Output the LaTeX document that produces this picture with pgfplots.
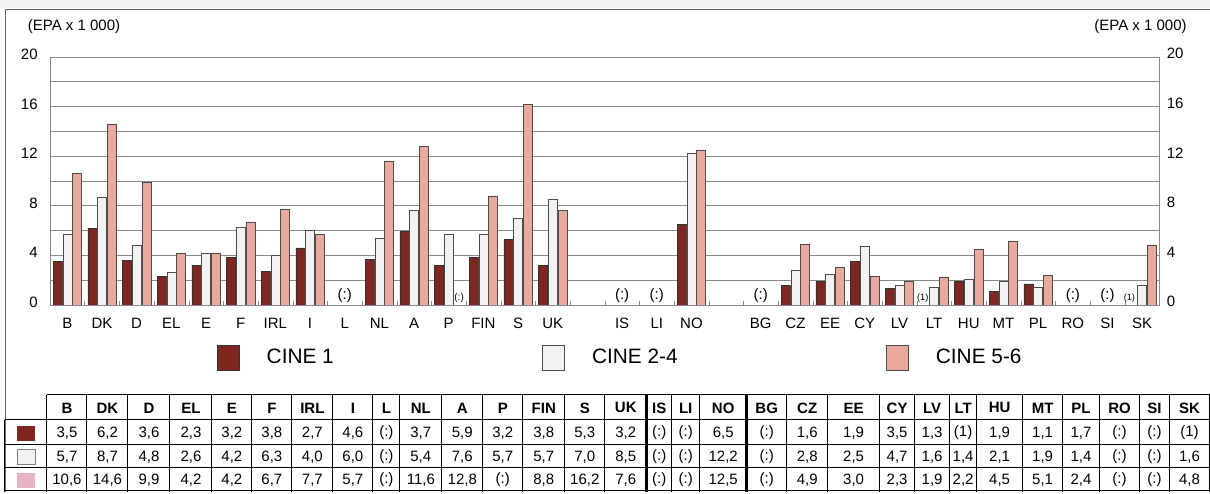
\documentclass[border=0pt]{standalone}
\usepackage{pgfplots}
\pgfplotsset{compat=1.18}
\usepackage{fontspec}
\setmainfont{Liberation Sans}
\pgfplotsset{/pgf/number format/assume math mode=true}

\definecolor{cineA}{HTML}{7E2620}
\definecolor{cineB}{HTML}{F2F2F2}
\definecolor{cineC}{HTML}{E8AA9C}
\definecolor{cinePink}{HTML}{E8B2C6}
\definecolor{gridc}{HTML}{8A8A8A}

% category positions: B..UK = 0..14, IS LI NO = 16..18, BG..SK = 20..31
\begin{document}
\begin{tikzpicture}
% 1 px of the reference = 0.6pt
\begin{scope}[x=0.6pt,y=-0.6pt]
  \useasboundingbox (0,0) rectangle (1210,492);
  \fill[black!5] (0,0) rectangle (1210,8);
  \draw[black!60, line width=0.6pt] (6,492) -- (6,9) -- (1210,9);
  \node[anchor=west, font=\fontsize{9}{11}\selectfont] at (22,27) {(EPA x 1 000)};
  \node[anchor=east, font=\fontsize{9}{11}\selectfont] at (1193,27) {(EPA x 1 000)};
\end{scope}

\begin{axis}[
  at={(30pt,-183pt)}, anchor=south west,
  scale only axis, width=666pt, height=148.8pt,
  xmin=-0.5, xmax=31.5, ymin=0, ymax=20,
  ybar=0.4pt, bar width=0.26,
  legend image code/.code={
    \draw[#1, line width=0.4pt] (0pt,-7.5pt) rectangle (13.2pt,7.5pt);
    \path[draw=none, fill=none] (0pt,-1pt) rectangle (27.8pt,1pt);},
  xtick={0,1,...,14,16,17,18,20,21,...,31},
  xticklabels={B,DK,D,EL,E,F,IRL,I,L,NL,A,P,FIN,S,UK,IS,LI,NO,BG,CZ,EE,CY,LV,LT,HU,MT,PL,RO,SI,SK},
  minor xtick={-0.5,0.5,...,31.5},
  ytick={0,2,...,20}, yticklabels={0,,4,,8,,12,,16,,20},
  ymajorgrids,
  grid style={gridc, line width=0.4pt},
  major tick length=0pt, minor tick length=2.4pt,
  tick align=inside, xtick pos=bottom, ytick pos=left,
  tick style={gridc},
  axis line style={gridc},
  tick label style={font=\fontsize{9}{11}\selectfont},
  yticklabel style={inner xsep=0pt, xshift=-7.2pt, yshift=1.5pt},
  xticklabel style={inner ysep=0pt, yshift=-7.8pt},
  legend columns=3,
  legend style={at={(0.150,-0.2137)}, anchor=west, draw=none, fill=none,
    inner sep=0pt, font=\fontsize{12.5}{14}\selectfont,
    /tikz/every even column/.append style={column sep=123pt}},
]
\addplot[fill=cineA, draw=black!80, line width=0.35pt] coordinates {
  (0,3.5) (1,6.2) (2,3.6) (3,2.3) (4,3.2) (5,3.8) (6,2.7) (7,4.6)
  (9,3.7) (10,5.9) (11,3.2) (12,3.8) (13,5.3) (14,3.2)
  (18,6.5)
  (21,1.6) (22,1.9) (23,3.5) (24,1.3) (26,1.9) (27,1.1) (28,1.7)
};
\addplot[fill=cineB, draw=black!70, line width=0.35pt] coordinates {
  (0,5.7) (1,8.7) (2,4.8) (3,2.6) (4,4.2) (5,6.3) (6,4.0) (7,6.0)
  (9,5.4) (10,7.6) (11,5.7) (12,5.7) (13,7.0) (14,8.5)
  (18,12.2)
  (21,2.8) (22,2.5) (23,4.7) (24,1.6) (25,1.4) (26,2.1) (27,1.9) (28,1.4) (31,1.6)
};
\addplot[fill=cineC, draw=black!70, line width=0.35pt] coordinates {
  (0,10.6) (1,14.6) (2,9.9) (3,4.2) (4,4.2) (5,6.7) (6,7.7) (7,5.7)
  (9,11.6) (10,12.8) (12,8.8) (13,16.2) (14,7.6)
  (18,12.5)
  (21,4.9) (22,3.0) (23,2.3) (24,1.9) (25,2.2) (26,4.5) (27,5.1) (28,2.4) (31,4.8)
};
\legend{CINE 1, CINE 2-4, CINE 5-6}
% not available / unreliable
\node[font=\fontsize{9}{11}\selectfont] at (axis cs:8,0.75) {(:)};
\node[font=\fontsize{9}{11}\selectfont] at (axis cs:16,0.75) {(:)};
\node[font=\fontsize{9}{11}\selectfont] at (axis cs:17,0.75) {(:)};
\node[font=\fontsize{9}{11}\selectfont] at (axis cs:20,0.75) {(:)};
\node[font=\fontsize{9}{11}\selectfont] at (axis cs:29,0.75) {(:)};
\node[font=\fontsize{9}{11}\selectfont] at (axis cs:30,0.75) {(:)};
\node[font=\fontsize{6}{7}\selectfont] at (axis cs:11.3,0.6) {(:)};
\node[font=\fontsize{5.5}{7}\selectfont] at (axis cs:24.67,0.55) {(1)};
\node[font=\fontsize{5.5}{7}\selectfont] at (axis cs:30.63,0.55) {(1)};
\end{axis}

\begin{axis}[
  at={(30pt,-183pt)}, anchor=south west,
  scale only axis, width=666pt, height=148.8pt,
  xmin=-0.5, xmax=31.5, ymin=0, ymax=20,
  axis x line=none, axis y line*=right, axis line style={draw=none},
  ytick={0,4,...,20}, major tick length=0pt,
  tick label style={font=\fontsize{9}{11}\selectfont},
  yticklabel style={inner xsep=0pt, xshift=4.2pt, yshift=2pt},
]
\end{axis}

% data table under the chart
\begin{scope}[x=0.6pt,y=-0.6pt]
  \draw[black, line width=0.6pt] (47,395) -- (1210,395);
  \foreach \y in {420,445,468,491} {\draw[black, line width=0.6pt] (5,\y) -- (1210,\y);}
  \draw[black, line width=0.6pt] (5,420) -- (5,492);
  \draw[black, line width=0.6pt] (47,395) -- (47,492);
  \fill[cineA] (17,426) rectangle (35,441);
  \filldraw[fill=cineB, draw=black!50, line width=0.4pt] (17,450) rectangle (35,465);
  \fill[cinePink] (17,473) rectangle (35,488);
  \foreach \xa/\xb/\h/\ra/\rb/\rc in {
    47/87/B/{3,5}/{5,7}/{10,6}, 87/128/DK/{6,2}/{8,7}/{14,6},
    128/170/D/{3,6}/{4,8}/{9,9}, 170/212/EL/{2,3}/{2,6}/{4,2},
    212/252/E/{3,2}/{4,2}/{4,2}, 252/292/F/{3,8}/{6,3}/{6,7},
    292/333/IRL/{2,7}/{4,0}/{7,7}, 333/373/I/{4,6}/{6,0}/{5,7},
    373/400/L/(:)/(:)/(:), 400/442/NL/{3,7}/{5,4}/{11,6},
    442/483/A/{5,9}/{7,6}/{12,8}, 483/523/P/{3,2}/{5,7}/(:),
    523/565/FIN/{3,8}/{5,7}/{8,8}, 565/605/S/{5,3}/{7,0}/{16,2},
    605/647/UK/{3,2}/{8,5}/{7,6}, 647/672/IS/(:)/(:)/(:),
    672/700/LI/(:)/(:)/(:), 700/747/NO/{6,5}/{12,2}/{12,5},
    747/787/BG/(:)/(:)/(:), 787/828/CZ/{1,6}/{2,8}/{4,9},
    828/880/EE/{1,9}/{2,5}/{3,0}, 880/915/CY/{3,5}/{4,7}/{2,3},
    915/950/LV/{1,3}/{1,6}/{1,9}, 950/977/LT/(1)/{1,4}/{2,2},
    977/1023/HU/{1,9}/{2,1}/{4,5}, 1023/1063/MT/{1,1}/{1,9}/{5,1},
    1063/1100/PL/{1,7}/{1,4}/{2,4}, 1100/1140/RO/(:)/(:)/(:),
    1140/1170/SI/(:)/(:)/(:), 1170/1210/SK/(1)/{1,6}/{4,8}} {
    \draw[black, line width=0.6pt] (\xb,395) -- (\xb,492);
    \node[font=\bfseries\fontsize{9}{11}\selectfont] at ({(\xa+\xb)/2},408) {\h};
    \node[font=\fontsize{9}{11}\selectfont] at ({(\xa+\xb)/2},433) {\ra};
    \node[font=\fontsize{9}{11}\selectfont] at ({(\xa+\xb)/2},457) {\rb};
    \node[font=\fontsize{9}{11}\selectfont] at ({(\xa+\xb)/2},480) {\rc};
  }
  \draw[black, line width=1.8pt] (647,395) -- (647,492);
  \draw[black, line width=1.8pt] (747,395) -- (747,492);
\end{scope}
\end{tikzpicture}
\end{document}
